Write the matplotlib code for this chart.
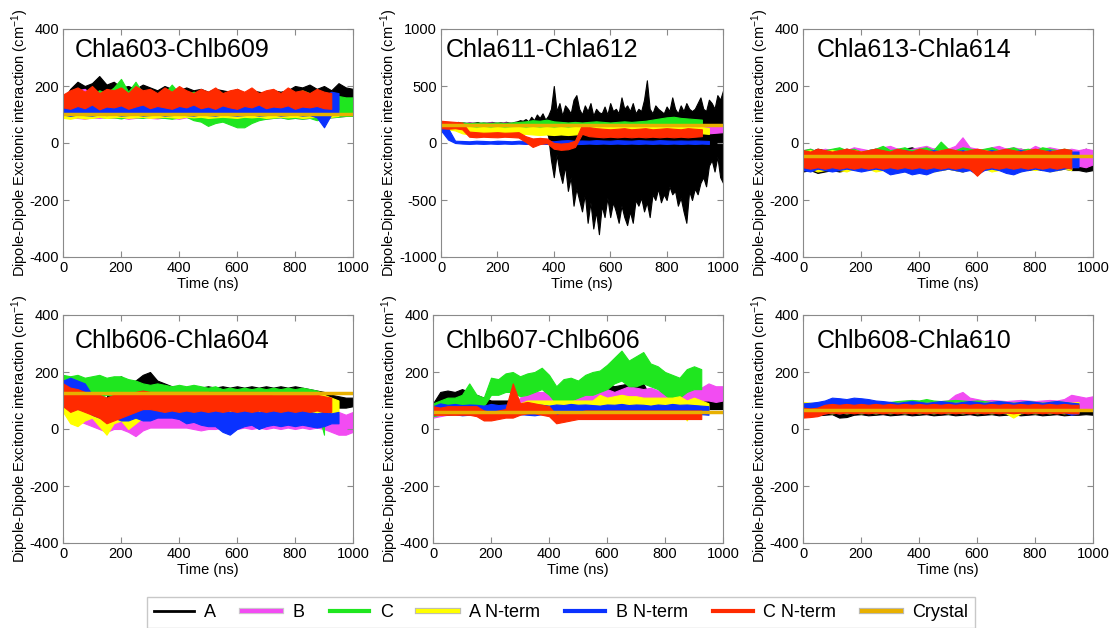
import numpy as np
import matplotlib.pyplot as plt
from matplotlib.lines import Line2D
import matplotlib.patheffects as pe

plt.rcParams['font.family'] = ['Liberation Sans', 'DejaVu Sans']
plt.rcParams['mathtext.default'] = 'regular'
plt.rcParams['axes.unicode_minus'] = False

# time grid (ns), every 25 ns; one trace uses a finer 10 ns grid
t = np.arange(0, 1001, 25)
t_fine = np.arange(0, 1001, 10)

series = ['A', 'B', 'C', 'A N-term', 'B N-term', 'C N-term']
titles = ['Chla603-Chlb609', 'Chla611-Chla612', 'Chla613-Chla614',
          'Chlb606-Chla604', 'Chlb607-Chlb606', 'Chlb608-Chla610']
crystal = [103, 160, -45, 128, 60, 68]

# each entry: (lower envelope, upper envelope)
p1 = {
    'A': ([110, 120, 125, 120, 125, 130, 125, 120, 125, 120, 125, 120, 125, 120, 120, 125,
           120, 120, 125, 120, 120, 125, 120, 120, 125, 120, 120, 125, 120, 120, 125, 120,
           125, 130, 125, 130, 125, 130, 140, 145, 150],
          [150, 190, 215, 200, 210, 235, 205, 215, 195, 200, 190, 205, 195, 185, 200, 190,
           185, 195, 185, 190, 180, 190, 185, 180, 190, 175, 185, 180, 175, 185, 180, 185,
           200, 195, 205, 190, 200, 185, 210, 195, 190]),
    'B': ([95, 90, 88, 85, 90, 88, 92, 88, 90, 85, 88, 92, 88, 86, 90, 88,
           85, 90, 88, 86, 90, 88, 84, 88, 90, 86, 88, 90, 85, 88, 90, 86,
           88, 85, 88, 90, 88, 90, 92, 95, 95],
          [140, 150, 185, 190, 170, 150, 145, 150, 145, 140, 145, 140, 150, 140, 145, 140,
           140, 145, 140, 140, 145, 140, 140, 140, 145, 140, 140, 145, 140, 140, 140, 145,
           140, 140, 140, 145, 140, 145, 150, 155, 140]),
    'C': ([95, 90, 92, 88, 90, 92, 88, 90, 86, 92, 90, 88, 92, 90, 88, 85,
           90, 92, 80, 75, 60, 70, 75, 65, 55, 55, 70, 80, 85, 88, 90, 85,
           88, 85, 88, 80, 85, 90, 92, 95, 95],
          [150, 170, 180, 175, 170, 185, 175, 195, 225, 180, 215, 175, 180, 170, 175, 205,
           175, 170, 180, 175, 170, 185, 175, 170, 180, 175, 170, 175, 170, 180, 170, 175,
           170, 185, 175, 170, 175, 170, 165, 160, 160]),
    'A N-term': ([88, 85, 90, 86, 88, 92, 88, 90, 92, 88, 90, 92, 88, 90, 92, 90,
                  88, 92, 90, 92, 88, 90, 92, 90, 88, 92, 90, 92, 88, 90, 92, 90,
                  92, 88, 90, 92, 90, 92, 95],
                 [130, 125, 120, 125, 120, 118, 122, 120, 118, 125, 120, 118, 122, 120, 118, 120,
                  122, 118, 120, 118, 122, 120, 118, 120, 122, 118, 120, 118, 122, 120, 118, 120,
                  118, 122, 120, 118, 120, 118, 115]),
    'B N-term': ([100, 95, 100, 98, 96, 100, 98, 100, 96, 98, 100, 96, 98, 100, 96, 98,
                  100, 98, 96, 100, 98, 96, 100, 98, 96, 98, 100, 96, 98, 100, 96, 98,
                  100, 96, 98, 90, 55, 100, 105],
                 [140, 150, 165, 160, 155, 150, 160, 155, 150, 160, 155, 150, 165, 160, 150, 155,
                  160, 150, 155, 160, 150, 155, 150, 160, 155, 150, 155, 150, 155, 160, 150, 155,
                  150, 155, 150, 160, 165, 180, 175]),
    'C N-term': ([125, 120, 130, 122, 135, 118, 128, 125, 132, 120, 128, 135, 122, 130, 125, 120,
                  130, 125, 135, 122, 128, 120, 132, 125, 120, 130, 125, 135, 122, 128, 125, 132,
                  120, 128, 125, 130, 122, 120],
                 [170, 185, 195, 180, 200, 175, 190, 185, 195, 175, 200, 185, 190, 175, 195, 180,
                  200, 185, 175, 190, 180, 195, 175, 185, 190, 180, 195, 175, 185, 190, 175, 195,
                  180, 185, 175, 190, 180, 175]),
}

p2 = {
    'A': ([135, 130, 132, 128, 130, 134, 130, 128, 132, 130, 134, 130, 128, 132, 130, 128,
           134, 130, 132, 128, 130, 134, 130, 128, 132, 130, 128, 132, 130, 125,
           130, 128, 132, 130, 125, 130, 120, 110, 60, -150,
           -300, -100, -250, -350, -200, -420, -300, -550, -400, -500,
           -600, -450, -700, -520, -750, -600, -800, -550, -650, -480,
           -650, -520, -600, -700, -550, -650, -720, -600, -700, -500,
           -550, -480, -600, -520, -650, -450, -500, -400, -520, -450,
           -500, -380, -450, -420, -550, -480, -600, -700, -420, -500,
           -400, -450, -350, -300, -380, -200, -150, -250, -120, -300, -350],
          [175, 180, 178, 182, 176, 180, 185, 178, 180, 176, 182, 178, 180, 184, 176, 180,
           178, 182, 185, 180, 178, 182, 180, 186, 180, 178, 185, 190, 200, 195,
           210, 190, 230, 200, 250, 220, 260, 205, 240, 300,
           500, 280, 350, 240, 330, 300, 260, 380, 420, 300,
           250, 330, 280, 350, 240, 300, 270, 260, 320, 250,
           350, 280, 300, 260, 400, 300, 330, 280, 350, 260,
           300, 280, 380, 550, 300, 260, 330, 300, 280, 260,
           320, 280, 400, 300, 260, 330, 280, 350, 300, 280,
           300, 350, 400, 300, 280, 380, 350, 300, 420, 380, 460]),
    'B': ([140, 135, 140, 135, 140, 135, 138, 140, 135, 140, 135, 140, 135, 140, 135, 140,
           135, 138, 135, 130, 135, 130, 135, 130, 135, 130, 135, 130, 135, 130, 135, 130,
           135, 130, 135, 130, 110, 95, 85, 90, 95],
          [180, 175, 180, 175, 180, 175, 178, 180, 175, 180, 175, 180, 175, 180, 175, 180,
           175, 178, 175, 170, 175, 170, 175, 170, 175, 170, 175, 170, 175, 170, 175, 170,
           175, 170, 175, 170, 165, 160, 150, 145, 150]),
    'C': ([140, 135, 130, 135, 130, 135, 130, 135, 130, 135, 130, 135, 130, 135, 130, 135,
           130, 135, 130, 135, 130, 135, 130, 135, 130, 135, 130, 135, 130, 135, 130, 135,
           130, 135, 130, 135, 130, 135],
          [190, 180, 175, 180, 175, 178, 180, 175, 180, 175, 180, 185, 190, 200, 195, 205,
           190, 185, 180, 185, 180, 185, 190, 185, 180, 185, 190, 185, 190, 195, 205, 215,
           225, 230, 220, 215, 210, 205]),
    'A N-term': ([130, 120, 110, 85, 75, 80, 75, 80, 75, 80, 75, 78, 80, 75, 70, 75,
                  70, 75, 70, 75, 80, 85, 80, 85, 80, 85, 80, 85, 80, 85, 80, 85,
                  80, 85, 80, 85, 80, 85, 80],
                 [190, 180, 175, 150, 140, 135, 140, 135, 140, 135, 138, 140, 135, 140, 135, 140,
                  135, 140, 135, 140, 145, 140, 145, 140, 145, 140, 145, 140, 145, 140, 145, 140,
                  145, 140, 145, 140, 145, 140, 130]),
    'B N-term': ([110, 30, 0, -5, -8, -5, -8, -5, -8, -5, -8, -5, -8, -5, -5, -8,
                  -10, -5, -5, -10, -8, -5, -8, -5, -8, -5, -8, -5, -8, -5, -8, -5,
                  -8, -5, -8, -5, -8, -5, -8],
                 [140, 130, 20, 18, 15, 20, 18, 15, 20, 18, 15, 20, 18, 15, 20, 18,
                  15, 22, 25, 20, 22, 20, 25, 22, 20, 25, 22, 20, 25, 22, 20, 25,
                  22, 20, 22, 20, 22, 20, 18]),
    'C N-term': ([130, 125, 130, 120, 55, 50, 55, 52, 50, 55, 52, 48, 10, -35, -10, 0,
                  -50, -60, -55, -35, 80, 60, 55, 50, 55, 50, 55, 50, 55, 50, 55, 50,
                  55, 50, 55, 50, 55, 60],
                 [195, 190, 185, 180, 100, 95, 90, 92, 95, 90, 92, 95, 60, 40, 45, 40,
                  0, -5, 0, 20, 160, 140, 130, 125, 120, 125, 130, 120, 125, 130, 120, 125,
                  130, 125, 120, 130, 125, 120]),
}

p3 = {
    'A': ([-100, -95, -105, -100, -95, -100, -95, -90, -95, -90, -95, -90, -95, -90, -95, -100,
           -90, -95, -90, -95, -90, -95, -100, -90, -95, -90, -95, -90, -95, -100, -90, -95,
           -90, -95, -90, -95, -90, -95, -95, -100, -95],
          [-25, -30, -20, -25, -30, -25, -20, -25, -30, -25, -20, -25, -30, -25, -20, -15,
           -25, -30, -20, -25, -30, -25, -20, -25, -30, -25, -20, -25, -30, -25, -20, -25,
           -30, -25, -20, -25, -30, -25, -30, -20, -30]),
    'B': ([-85, -80, -85, -90, -85, -80, -85, -80, -90, -85, -80, -85, -90, -85, -80, -85,
           -80, -85, -90, -85, -80, -85, -90, -85, -80, -85, -90, -85, -80, -85, -90, -85,
           -80, -85, -90, -85, -80, -85, -80, -85, -75],
          [-25, -20, -30, -20, -25, -20, -25, -15, -20, -25, -20, -15, -10, -20, -25, -20,
           -15, -10, -20, -15, -20, -10, 20, -15, -20, -25, -15, -10, -20, -15, -20, -25,
           -10, -20, -15, -20, -25, -20, -25, -20, -25]),
    'C': ([-85, -90, -85, -80, -90, -85, -80, -90, -85, -80, -90, -85, -80, -90, -85, -80,
           -90, -85, -80, -90, -85, -80, -90, -85, -80, -90, -85, -80, -90, -85, -80, -90,
           -85, -80, -90, -85, -80, -90],
          [-25, -20, -30, -25, -20, -15, -25, -20, -30, -25, -20, -10, -25, -20, -15, -25,
           -20, -15, -25, 5, -20, -25, -15, -20, -25, -20, -15, -25, -20, -15, -25, -20,
           -25, -15, -20, -25, -20, -25]),
    'A N-term': ([-95, -90, -100, -95, -90, -95, -100, -90, -95, -90, -100, -95, -90, -95, -100, -90,
                  -95, -90, -100, -95, -90, -95, -100, -90, -95, -90, -100, -95, -90, -95, -100, -90,
                  -95, -90, -100, -95, -90, -95],
                 [-30, -25, -35, -30, -25, -30, -35, -25, -30, -35, -25, -30, -35, -25, -30, -35,
                  -25, -30, -35, -25, -30, -35, -25, -30, -35, -25, -30, -35, -25, -30, -35, -25,
                  -30, -35, -25, -30, -35, -30]),
    'B N-term': ([-95, -100, -90, -95, -100, -95, -90, -95, -100, -95, -90, -95, -110, -105, -100, -110,
                  -105, -110, -100, -95, -90, -95, -100, -95, -110, -95, -90, -95, -105, -110, -100, -95,
                  -90, -95, -100, -95, -90, -85, -85],
                 [-30, -35, -25, -30, -35, -30, -25, -30, -35, -30, -25, -30, -35, -30, -25, -30,
                  -35, -30, -25, -30, -35, -30, -25, -30, -35, -30, -25, -30, -35, -30, -25, -30,
                  -35, -30, -25, -30, -35, -30, -30]),
    'C N-term': ([-85, -90, -85, -90, -85, -90, -85, -90, -85, -90, -85, -90, -85, -90, -85, -90,
                  -85, -90, -85, -90, -85, -90, -85, -90, -115, -90, -85, -90, -85, -90, -85, -90,
                  -85, -90, -85, -90, -85, -90],
                 [-25, -30, -20, -25, -30, -25, -20, -25, -30, -25, -20, -25, -30, -20, -25, -30,
                  -20, -25, -30, -25, -20, -25, -30, -25, -20, -25, -30, -25, -20, -25, -30, -25,
                  -20, -25, -30, -25, -20, -25]),
}

p4 = {
    'A': ([90, 100, 100, 80, 30, 10, 0, 60, 100, 100, 110, 120, 130, 110, 100, 95,
           90, 95, 90, 95, 90, 95, 90, 95, 90, 95, 90, 95, 90, 95, 90, 95,
           90, 95, 90, 95, 80, 75, 75, 75, 80],
          [170, 160, 165, 150, 130, 100, 110, 170, 185, 160, 170, 190, 200, 170, 160, 150,
           150, 145, 150, 145, 150, 145, 150, 145, 150, 145, 150, 145, 150, 145, 150, 145,
           150, 145, 140, 135, 130, 120, 115, 110, 110]),
    'B': ([60, 50, 30, 20, 10, 0, -10, 0, 0, -10, -25, -5, 5, 5, 5, 5,
           5, 5, 0, -5, 0, 0, 5, 0, 0, 5, 0, 5, 0, 5, 0, 5,
           0, 5, 0, 5, 0, -10, -20, -20, -10],
          [150, 130, 120, 110, 100, 95, 90, 90, 90, 85, 80, 80, 90, 90, 90, 90,
           90, 90, 80, 80, 75, 70, 75, 70, 75, 70, 75, 70, 75, 70, 75, 70,
           75, 70, 75, 70, 65, 60, 60, 50, 60]),
    'C': ([110, 115, 110, 120, 115, 110, 120, 115, 120, 110, 100, 90, 90, 95, 90, 95,
           90, 95, 90, 95, 90, 95, 90, 95, 90, 95, 90, 95, 90, 95, 90, 95,
           90, 95, 90, 80, -20],
          [190, 185, 190, 180, 185, 190, 180, 185, 185, 175, 170, 160, 155, 160, 155, 150,
           155, 150, 155, 150, 145, 150, 140, 145, 140, 145, 140, 145, 140, 145, 140, 145,
           140, 145, 140, 135, 125]),
    'A N-term': ([60, 20, 10, 30, 40, 10, -20, 20, 30, 0, 20, 40, 60, 60, 55, 60,
                  60, 55, 60, 55, 60, 55, 50, 50, 50, 45, 50, 50, 50, 50, 55, 50,
                  50, 55, 50, 55, 50, 40, 55],
                 [140, 120, 110, 100, 110, 100, 90, 100, 110, 100, 110, 120, 130, 130, 130, 130,
                  130, 130, 130, 130, 130, 125, 120, 120, 120, 120, 120, 120, 120, 120, 120, 120,
                  120, 120, 120, 120, 120, 110, 100]),
    'B N-term': ([80, 80, 70, 70, 50, 40, 30, 40, 30, 30, 40, 30, 30, 40, 40, 40,
                  35, 20, 25, 15, 10, 10, -10, -20, 0, 10, 15, 0, 10, 15, 10, 15,
                  10, 15, 10, 5, 10, 20, 20],
                 [170, 180, 170, 160, 120, 110, 100, 110, 100, 90, 100, 90, 90, 100, 90, 100,
                  95, 80, 85, 80, 75, 80, 70, 60, 65, 70, 75, 60, 65, 70, 65, 70,
                  60, 65, 60, 55, 60, 55, 60]),
    'C N-term': ([80, 60, 70, 60, 50, 40, 20, 30, 40, 50, 60, 70, 70, 65, 60, 65,
                  60, 65, 60, 65, 60, 65, 60, 65, 60, 65, 60, 65, 60, 65, 60, 65,
                  60, 65, 60, 65, 60, 60],
                 [160, 145, 140, 130, 125, 120, 110, 120, 130, 125, 130, 135, 130, 130, 130, 130,
                  130, 130, 130, 130, 130, 130, 130, 130, 130, 130, 130, 130, 125, 120, 120, 120,
                  120, 120, 120, 120, 115, 110]),
}

p5 = {
    'A': ([60, 70, 70, 70, 70, 70, 65, 60, 60, 60, 60, 60, 60, 60, 60, 60,
           60, 60, 60, 60, 60, 60, 60, 60, 80, 80, 80, 80, 75, 80, 70, 70,
           70, 70, 70, 70, 70, 70, 70, 70, 70],
          [90, 130, 135, 130, 140, 130, 120, 110, 100, 100, 100, 100, 105, 100, 100, 100,
           180, 100, 100, 100, 100, 100, 100, 110, 160, 150, 155, 160, 150, 160, 110, 105,
           110, 100, 110, 100, 110, 100, 100, 110, 110]),
    'B': ([40, 45, 50, 50, 50, 50, 50, 50, 50, 50, 50, 50, 60, 70, 70, 70,
           70, 65, 60, 65, 70, 75, 80, 90, 90, 80, 90, 100, 95, 90, 90, 90,
           80, 85, 90, 90, 95, 100, 100, 95, 100],
          [80, 80, 80, 80, 80, 80, 80, 80, 80, 80, 80, 80, 110, 120, 130, 130,
           130, 120, 110, 115, 120, 125, 130, 140, 140, 130, 140, 150, 145, 140, 145, 135,
           130, 130, 140, 130, 140, 145, 160, 150, 150]),
    'C': ([45, 50, 60, 55, 60, 80, 80, 80, 120, 120, 130, 130, 115, 120, 130, 140,
           120, 90, 90, 100, 110, 120, 120, 130, 140, 160, 170, 150, 150, 160, 150, 140,
           120, 100, 110, 130, 140, 140],
          [90, 100, 110, 110, 120, 160, 120, 110, 180, 175, 195, 200, 185, 195, 200, 215,
           190, 150, 175, 180, 170, 190, 200, 205, 225, 250, 275, 240, 255, 270, 230, 220,
           200, 190, 180, 210, 220, 210]),
    'A N-term': ([50, 50, 50, 50, 50, 50, 50, 50, 50, 50, 50, 50, 60, 60, 60, 60,
                  60, 60, 60, 60, 60, 60, 60, 70, 70, 75, 80, 75, 70, 70, 70, 70,
                  70, 70, 75, 30, 70, 65, 60],
                 [80, 80, 80, 80, 80, 80, 80, 80, 80, 80, 80, 80, 90, 100, 100, 100,
                  100, 100, 100, 100, 100, 100, 100, 120, 110, 115, 120, 115, 115, 110, 110, 110,
                  110, 110, 115, 100, 110, 100, 90]),
    'B N-term': ([50, 55, 50, 52, 48, 50, 52, 50, 48, 52, 50, 48, 52, 50, 48, 52,
                  50, 48, 52, 50, 48, 50, 52, 48, 50, 52, 48, 50, 52, 48, 50, 52,
                  48, 50, 52, 48, 50, 52, 50],
                 [80, 90, 85, 88, 84, 86, 85, 82, 88, 84, 86, 85, 88, 84, 86, 85,
                  82, 86, 84, 88, 85, 86, 84, 82, 86, 85, 88, 84, 86, 85, 82, 86,
                  84, 88, 85, 86, 84, 82, 80]),
    'C N-term': ([50, 50, 50, 50, 50, 50, 45, 30, 30, 35, 40, 40, 50, 55, 55, 50,
                  45, 20, 25, 30, 35, 35, 35, 35, 35, 35, 35, 35, 35, 35, 35, 35,
                  35, 35, 35, 35, 35, 35],
                 [80, 75, 80, 80, 80, 80, 80, 65, 60, 65, 70, 160, 90, 95, 90, 85,
                  80, 50, 55, 60, 60, 65, 65, 65, 65, 65, 65, 65, 65, 65, 65, 65,
                  65, 65, 65, 65, 65, 65]),
}

p6 = {
    'A': ([50, 52, 48, 50, 52, 40, 42, 50, 52, 48, 50, 52, 48, 50, 52, 48,
           50, 52, 48, 50, 52, 48, 50, 52, 48, 50, 52, 48, 50, 52, 48, 50,
           52, 48, 50, 52, 48, 50, 50, 52, 50],
          [70, 72, 68, 70, 72, 68, 70, 72, 68, 70, 72, 68, 70, 72, 68, 70,
           72, 68, 70, 72, 68, 70, 72, 68, 70, 72, 68, 70, 72, 68, 70, 72,
           68, 70, 72, 68, 70, 72, 65, 68, 65]),
    'B': ([50, 52, 55, 55, 58, 55, 58, 60, 60, 58, 60, 60, 62, 60, 62, 60,
           62, 60, 62, 60, 62, 70, 80, 70, 65, 62, 60, 62, 60, 62, 60, 62,
           60, 62, 60, 62, 65, 70, 75, 70, 70],
          [80, 82, 85, 80, 85, 88, 85, 90, 90, 92, 95, 92, 95, 92, 95, 98,
           95, 98, 95, 98, 100, 120, 130, 110, 105, 100, 102, 100, 98, 100, 102, 100,
           98, 100, 102, 100, 105, 120, 115, 110, 115]),
    'C': ([60, 62, 65, 62, 65, 62, 65, 62, 65, 62, 65, 62, 65, 62, 65, 62,
           65, 62, 65, 62, 65, 62, 65, 62, 65, 62, 65, 62, 65, 62, 65, 62,
           65, 62, 65, 62, 65, 62],
          [80, 85, 90, 88, 92, 95, 98, 100, 100, 98, 95, 92, 95, 98, 100, 102,
           100, 105, 100, 98, 100, 102, 100, 98, 100, 98, 95, 98, 95, 92, 95, 98,
           95, 92, 95, 98, 95, 92]),
    'A N-term': ([55, 58, 55, 58, 55, 58, 55, 58, 55, 58, 55, 58, 55, 58, 55, 58,
                  55, 58, 55, 58, 55, 58, 55, 58, 55, 58, 55, 58, 55, 40, 55, 58,
                  55, 58, 55, 58, 55, 58, 60],
                 [95, 92, 90, 88, 90, 92, 95, 92, 90, 92, 95, 92, 90, 92, 95, 92,
                  90, 92, 95, 92, 90, 92, 95, 92, 90, 92, 95, 92, 90, 92, 95, 92,
                  90, 92, 95, 92, 90, 92, 95]),
    'B N-term': ([58, 60, 58, 60, 58, 60, 58, 60, 58, 60, 58, 60, 58, 60, 58, 60,
                  58, 60, 58, 60, 58, 60, 58, 60, 58, 60, 58, 60, 58, 60, 58, 60,
                  58, 60, 58, 60, 58, 50, 55],
                 [90, 92, 95, 100, 110, 108, 105, 110, 108, 105, 100, 98, 95, 92, 95, 98,
                  95, 92, 95, 98, 95, 92, 95, 98, 95, 92, 95, 98, 95, 92, 95, 98,
                  95, 92, 95, 98, 95, 92, 90]),
    'C N-term': ([40, 42, 45, 55, 58, 55, 58, 55, 58, 55, 58, 55, 58, 55, 58, 55,
                  58, 55, 58, 55, 58, 55, 58, 55, 58, 55, 58, 55, 58, 55, 58, 55,
                  58, 55, 58, 55, 58, 55, 55],
                 [75, 72, 75, 85, 88, 85, 88, 85, 88, 85, 88, 85, 88, 85, 88, 85,
                  88, 85, 88, 85, 88, 85, 88, 85, 88, 85, 88, 85, 88, 85, 88, 85,
                  88, 85, 88, 85, 88, 85, 85]),
}

panels = [p1, p2, p3, p4, p5, p6]

colors = {'A': 'black', 'B': '#f24cf2', 'C': '#1fe61f', 'A N-term': '#ffff00',
          'B N-term': '#0a32ff', 'C N-term': '#ff2a00'}
crystal_color = '#e8b000'

W, H = 1112, 628
fig = plt.figure(figsize=(W / 100, H / 100), dpi=100)

# axes boxes in pixels: left, top, width, height
boxes = [(63, 29, 290, 228), (441, 29, 282, 228), (803, 29, 290, 228),
         (63, 315, 290, 228), (433, 315, 290, 228), (803, 315, 290, 228)]
title_x = [75, 446, 817, 75, 446, 817]
title_base = [57, 57, 57, 348, 348, 348]

for i, data in enumerate(panels):
    l, top, w, h = boxes[i]
    ax = fig.add_axes([l / W, 1 - (top + h) / H, w / W, h / H])
    for name in series:
        lo, hi = data[name]
        x = t_fine if len(lo) == len(t_fine) else t[:len(lo)]
        ax.fill_between(x, lo, hi, color=colors[name], lw=0.8)
    ax.axhline(crystal[i], color=crystal_color, lw=2.5)

    ax.set_xlim(0, 1000)
    ax.set_xticks(range(0, 1001, 200))
    if i == 1:
        ax.set_ylim(-1000, 1000)
        ax.set_yticks([-1000, -500, 0, 500, 1000])
    else:
        ax.set_ylim(-400, 400)
        ax.set_yticks([-400, -200, 0, 200, 400])
    ax.tick_params(direction='in', top=True, right=True, length=4, width=0.8,
                   color='#8a8a8a', labelsize=10.5, pad=3)
    for s in ax.spines.values():
        s.set_color('#8a8a8a')
        s.set_linewidth(0.8)
    ax.set_xlabel('Time (ns)', fontsize=10.5, labelpad=1)
    ax.set_ylabel('Dipole-Dipole Excitonic interaction (cm$^{-1}$)', fontsize=10.5,
                  labelpad=-1)
    fig.text(title_x[i] / W, 1 - title_base[i] / H, titles[i], fontsize=18,
             va='baseline', ha='left')

# legend
handles = [
    Line2D([], [], color='black', lw=2),
    Line2D([], [], color=colors['B'], lw=3,
           path_effects=[pe.Stroke(linewidth=4.5, foreground='#cccccc'), pe.Normal()]),
    Line2D([], [], color=colors['C'], lw=3),
    Line2D([], [], color=colors['A N-term'], lw=3,
           path_effects=[pe.Stroke(linewidth=4.5, foreground='#bbbbbb'), pe.Normal()]),
    Line2D([], [], color=colors['B N-term'], lw=3),
    Line2D([], [], color=colors['C N-term'], lw=3),
    Line2D([], [], color=crystal_color, lw=3,
           path_effects=[pe.Stroke(linewidth=4.5, foreground='#bbbbbb'), pe.Normal()]),
]
labels = series + ['Crystal']
fig.legend(handles, labels, loc='upper center', bbox_to_anchor=(561 / W, 1 - 597 / H),
           ncol=7, fontsize=13, frameon=True, fancybox=False, edgecolor='#bbbbbb',
           handlelength=2.2, handletextpad=0.6, columnspacing=1.4, borderpad=0.4,
           borderaxespad=0)

fig.savefig('out.png', dpi=100)
